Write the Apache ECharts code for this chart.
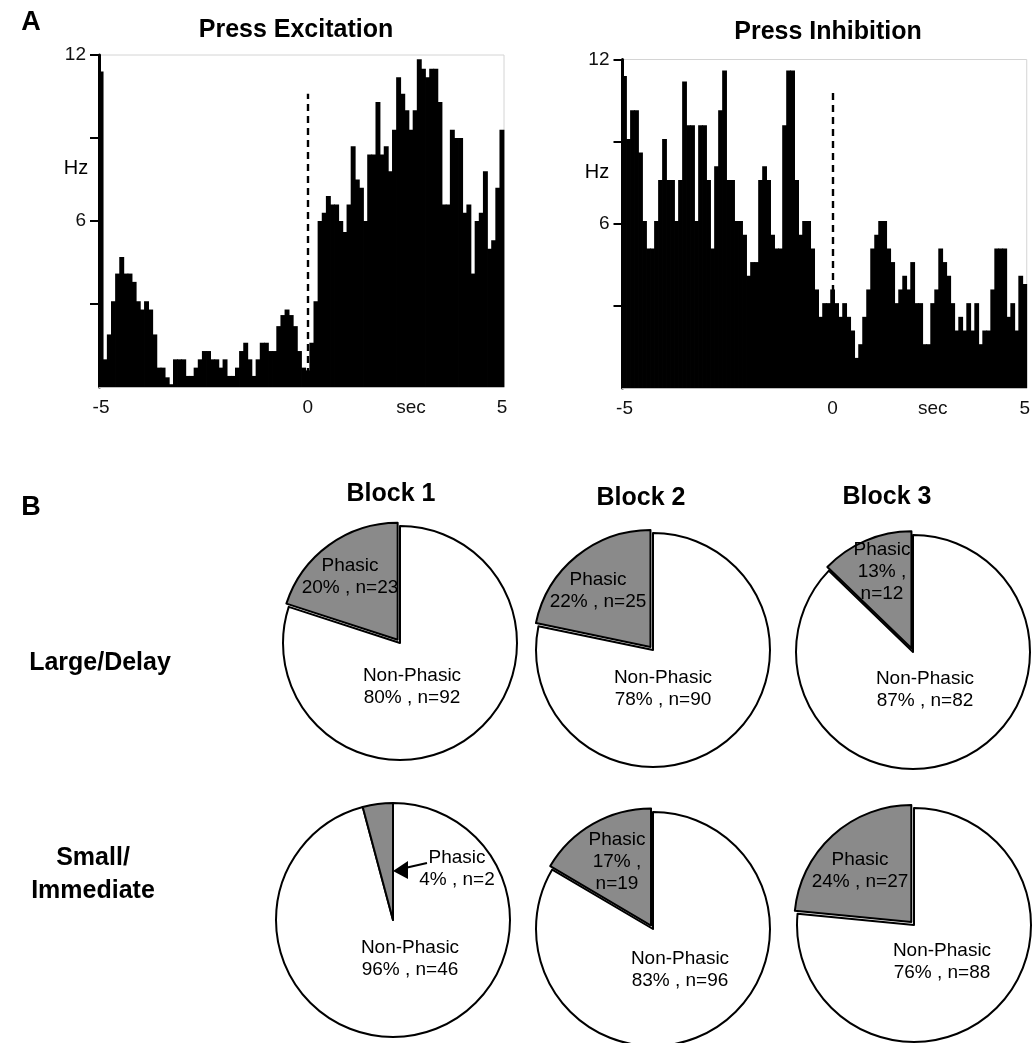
<!DOCTYPE html>
<html><head><meta charset="utf-8">
<script src="https://cdn.jsdelivr.net/npm/echarts@6/dist/echarts.min.js"></script>
<style>html,body{margin:0;padding:0;background:#fff}#c{width:1033px;height:1043px}</style>
</head><body><div id="c"></div>
<script>
// ---------- DATA ----------
// Press Excitation PETH, firing rate (Hz) per ~0.1 s bin (first bin = edge spike)
const excitationHz = [11.4,
  1.0,1.9,3.1,4.1,4.7,4.1,4.1,3.8,3.1,2.8,3.1,2.8,1.9,0.7,0.7,0.35,0.1,1.0,1.0,1.0,
  0.4,0.4,0.7,1.0,1.3,1.3,1.0,1.0,0.7,1.0,0.4,0.4,0.7,1.3,1.6,1.0,0.4,1.0,1.6,1.6,
  1.3,1.3,2.2,2.6,2.8,2.6,2.2,1.3,0.7,0.6,
  1.6,3.1,6.0,6.3,6.9,6.6,6.6,6.0,5.6,6.6,8.7,7.5,7.2,6.0,8.4,8.4,10.3,8.4,8.7,7.8,
  9.3,11.2,10.6,10.0,9.3,10.0,11.85,11.5,11.2,11.5,11.5,10.3,6.6,6.6,9.3,9.0,9.0,6.3,6.6,4.1,
  6.0,6.3,7.8,5.0,5.3,7.2,9.3];
// Press Inhibition PETH
const inhibitionHz = [11.4,
  9.1,10.15,10.15,8.6,6.1,5.1,5.1,6.1,7.6,9.1,7.6,7.6,6.1,7.6,11.2,9.6,9.6,6.1,9.6,9.6,
  7.6,5.1,8.1,10.15,
  11.6,7.6,7.6,6.1,6.1,5.6,4.1,4.6,4.6,7.6,8.1,7.6,5.6,5.1,5.1,9.6,11.6,11.6,7.6,5.6,
  6.1,6.1,5.1,3.6,2.6,3.1,3.1,3.6,
  3.1,2.6,3.1,2.6,2.1,1.1,1.6,2.6,3.6,5.1,5.6,6.1,6.1,5.1,4.6,3.1,3.6,4.1,3.6,4.6,
  3.1,3.1,1.6,1.6,3.1,3.6,5.1,4.6,4.1,3.1,2.1,2.6,2.1,3.1,2.1,3.1,1.6,2.1,2.1,3.6,
  5.1,5.1,5.1,2.6,3.1,2.1,4.1,3.8];
const xTickText = ['-5', '0', 'sec', '5'];
const excitationTickIdx = [0, 50, 75, 97];
const inhibitionTickIdx = [0, 52, 77, 100];
const excitationZeroIdx = 50;
const inhibitionZeroIdx = 52;
const markerTopHz = [10.6, 10.8];
const yTickVals = [3, 6, 9, 12];
const yLabelVals = [6, 12];
const histTitles = ['Press Excitation', 'Press Inhibition'];

const blockNames = ['Block 1', 'Block 2', 'Block 3'];
const conditionNames = ['Large/Delay', 'Small/\nImmediate'];
const largePhasicN = [23, 25, 12];
const largeNonPhasicN = [92, 90, 82];
const largePhasicPct = [20, 22, 13];
const largeNonPhasicPct = [80, 78, 87];
const smallPhasicN = [2, 19, 27];
const smallNonPhasicN = [46, 96, 88];
const smallPhasicPct = [4, 17, 24];
const smallNonPhasicPct = [96, 83, 76];

// ---------- LAYOUT / STYLE ----------
const FONT = '"Liberation Sans", Arial, sans-serif';
const pieCenters = [[400,643],[653,650],[913,652],[393,920],[653,929],[914,925]];
const pieRadius = 117;
const pieOffset = [4, 4, 4, 0, 4, 4];
const phasicLabelPos = [[350,577],[598,591],[882,572],[457,869],[617,862],[860,871]];
const nonLabelPos = [[412,687],[663,689],[925,690],[410,959],[680,970],[942,962]];
const phasicWrap = [false,false,true,false,true,false];

const cats1 = excitationHz.map((_, i) => String(i));
const cats2 = inhibitionHz.map((_, i) => String(i));

function histAxes(gridIndex, cats, tickIdx) {
  return {
    x: {
      gridIndex, type: 'category', data: cats, boundaryGap: true,
      axisLine: {show: true, lineStyle: {color: '#bdbdbd', width: 1}},
      axisTick: {show: false},
      splitLine: {show: false},
      axisLabel: {
        interval: (i) => tickIdx.includes(i),
        formatter: (v, i) => { const k = tickIdx.indexOf(i); return k >= 0 ? xTickText[k] : ''; },
        fontSize: 19, color: '#111', margin: 11, fontFamily: FONT
      }
    },
    y: {
      gridIndex, type: 'value', min: 0, max: 12, interval: 3,
      axisLine: {show: true, lineStyle: {color: '#000', width: 3}},
      axisTick: {show: true, length: 9, lineStyle: {color: '#000', width: 2}, customValues: yTickVals},
      axisLabel: {formatter: (v) => yLabelVals.includes(v) ? String(v) : '', fontSize: 19, color: '#111', margin: 13, fontFamily: FONT},
      splitLine: {show: false}
    }
  };
}
const a1 = histAxes(0, cats1, excitationTickIdx);
const a2 = histAxes(1, cats2, inhibitionTickIdx);

function renderBin(params, api) {
  const i = api.value(0), v = api.value(1);
  const top = api.coord([i, v]);
  const base = api.coord([i, 0]);
  const w = api.size([1, 0])[0];
  return {type: 'rect', shape: {x: top[0] - w / 2 - 0.4, y: top[1], width: w + 0.8, height: base[1] - top[1]},
    style: {fill: '#000'}};
}

function histSeries(idx, data, zeroIdx, top) {
  return [{
    type: 'custom', xAxisIndex: idx, yAxisIndex: idx,
    data: data.map((v, i) => [i, v]), encode: {x: 0, y: 1},
    renderItem: renderBin, silent: true, animation: false, z: 2
  }, {
    type: 'line', xAxisIndex: idx, yAxisIndex: idx, data: [], silent: true, animation: false, z: 5,
    markLine: {
      silent: true, symbol: ['none', 'none'], label: {show: false}, z: 5,
      lineStyle: {color: '#000', width: 2.4, type: [7, 5]},
      data: [[{coord: [String(zeroIdx), 0]}, {coord: [String(zeroIdx), top]}]]
    }
  }];
}

function pieSeries(k, phN, nonN) {
  return {
    type: 'pie', center: pieCenters[k], radius: pieRadius,
    startAngle: 90, clockwise: true, silent: true, animation: false,
    selectedMode: 'single', selectedOffset: pieOffset[k],
    emphasis: {disabled: true, scale: false},
    itemStyle: {borderColor: '#000', borderWidth: 2},
    select: {itemStyle: {borderColor: '#000', borderWidth: 2}},
    label: {show: false},
    labelLine: {show: false},
    data: [
      {name: 'Non-Phasic', value: nonN, itemStyle: {color: '#ffffff'}},
      {name: 'Phasic', value: phN, selected: pieOffset[k] > 0, itemStyle: {color: '#8a8a8a'}, select: {itemStyle: {color: '#8a8a8a'}}}
    ]
  };
}

const series = [].concat(
  histSeries(0, excitationHz, excitationZeroIdx, markerTopHz[0]),
  histSeries(1, inhibitionHz, inhibitionZeroIdx, markerTopHz[1])
);
const allPhN = largePhasicN.concat(smallPhasicN);
const allNonN = largeNonPhasicN.concat(smallNonPhasicN);
const allPhPct = largePhasicPct.concat(smallPhasicPct);
const allNonPct = largeNonPhasicPct.concat(smallNonPhasicPct);
for (let k = 0; k < 6; k++) series.push(pieSeries(k, allPhN[k], allNonN[k]));

function txt(text, x, y, size, weight, lh) {
  return {type: 'text', x, y, z: 100, silent: true,
    style: {text, fill: '#000', font: `${weight} ${size}px ${FONT}`, fontSize: size, fontWeight: weight, fontFamily: FONT,
      align: 'center', verticalAlign: 'middle', textAlign: 'center', textVerticalAlign: 'middle', lineHeight: lh || 33}};
}

const graphic = [
  txt('A', 31, 23, 27, 'bold'),
  txt('B', 31, 508, 27, 'bold'),
  txt(histTitles[0], 296, 30, 25, 'bold'),
  txt(histTitles[1], 828, 32, 25, 'bold'),
  txt('Hz', 76, 168, 20, 'normal'),
  txt('Hz', 597, 172, 20, 'normal'),
  txt(blockNames[0], 391, 494, 25, 'bold'),
  txt(blockNames[1], 641, 498, 25, 'bold'),
  txt(blockNames[2], 887, 497, 25, 'bold'),
  txt(conditionNames[0], 100, 663, 25, 'bold'),
  txt(conditionNames[1], 93, 875, 25, 'bold'),
  {type: 'polyline', z: 100, silent: true, shape: {points: [[427, 863], [405, 868]]}, style: {stroke: '#000', lineWidth: 2, fill: null}},
  {type: 'polygon', z: 100, silent: true, shape: {points: [[393, 871], [408, 861], [408, 879]]}, style: {fill: '#000'}}
];
for (let k = 0; k < 6; k++) {
  const ph = phasicWrap[k] ? `Phasic\n${allPhPct[k]}% ,\nn=${allPhN[k]}` : `Phasic\n${allPhPct[k]}% , n=${allPhN[k]}`;
  const non = `Non-Phasic\n${allNonPct[k]}% , n=${allNonN[k]}`;
  graphic.push(txt(ph, phasicLabelPos[k][0], phasicLabelPos[k][1], 19, 'normal', 22));
  graphic.push(txt(non, nonLabelPos[k][0], nonLabelPos[k][1], 19, 'normal', 22));
}

const option = {
  backgroundColor: '#fff',
  animation: false,
  grid: [
    {left: 99, top: 55, width: 405, height: 332, show: true, borderColor: '#d4d4d4', borderWidth: 1, containLabel: false},
    {left: 622.5, top: 59.5, width: 409, height: 328.5, show: true, borderColor: '#d4d4d4', borderWidth: 1, containLabel: false}
  ],
  xAxis: [a1.x, a2.x],
  yAxis: [a1.y, a2.y],
  series,
  graphic
};
const chart = echarts.init(document.getElementById('c'), null, {renderer: 'canvas'});
chart.setOption(option);
</script></body></html>
